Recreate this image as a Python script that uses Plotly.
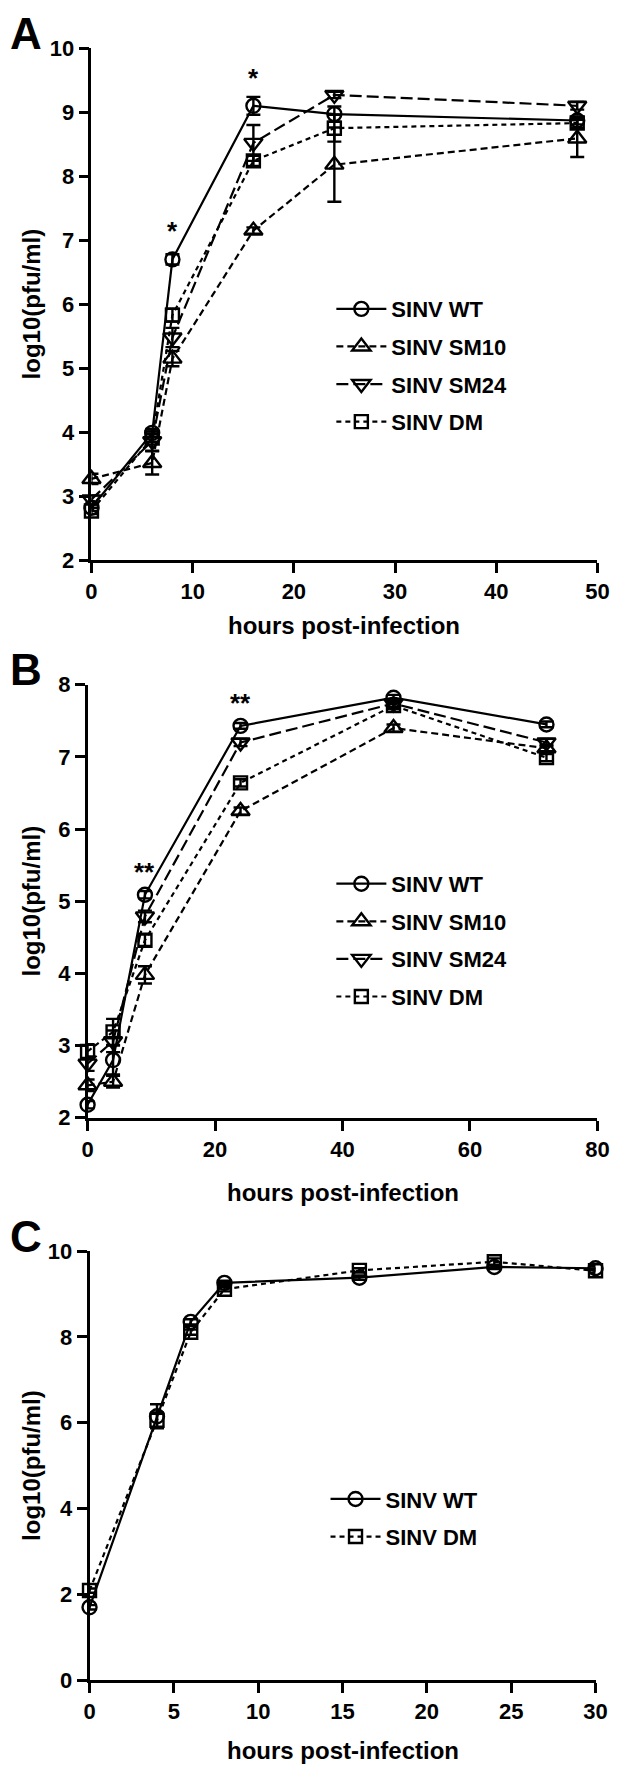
import plotly.graph_objects as go

# ---------------- data ----------------
hours_A = [0, 6, 8, 16, 24, 48]
A_WT = [2.82, 3.99, 6.70, 9.10, 8.97, 8.87]
A_SM10 = [3.27, 3.52, 5.15, 7.15, 8.18, 8.59]
A_SM24 = [2.95, 3.86, 5.48, 8.52, 9.27, 9.10]
A_DM = [2.77, 3.91, 5.83, 8.24, 8.75, 8.83]
A_WT_err = [0.05, 0.06, 0.08, 0.14, 0.12, 0.06]
A_SM10_err = [0.08, 0.18, 0.12, 0.05, 0.58, 0.29]
A_SM24_err = [0.06, 0.15, 0.15, 0.28, 0.05, 0.06]
A_DM_err = [0.05, 0.06, 0.10, 0.08, 0.21, 0.08]

hours_B = [0, 4, 9, 24, 48, 72]
B_WT = [2.18, 2.80, 5.09, 7.43, 7.82, 7.45]
B_SM10 = [2.45, 2.50, 3.98, 6.25, 7.40, 7.12]
B_SM24 = [2.75, 3.06, 4.79, 7.20, 7.74, 7.20]
B_DM = [2.92, 3.19, 4.46, 6.64, 7.71, 6.99]
B_WT_err = [0.05, 0.20, 0.05, 0.04, 0.04, 0.04]
B_SM10_err = [0.08, 0.08, 0.12, 0.05, 0.05, 0.05]
B_SM24_err = [0.10, 0.15, 0.08, 0.05, 0.05, 0.05]
B_DM_err = [0.10, 0.18, 0.08, 0.05, 0.05, 0.05]

hours_C = [0, 4, 6, 8, 16, 24, 30]
C_WT = [1.70, 6.15, 8.35, 9.26, 9.38, 9.63, 9.60]
C_DM = [2.09, 6.06, 8.11, 9.11, 9.55, 9.75, 9.54]
C_WT_err = [0.05, 0.28, 0.06, 0.05, 0.05, 0.05, 0.05]
C_DM_err = [0.05, 0.18, 0.06, 0.05, 0.05, 0.08, 0.05]

series_names = ["SINV WT", "SINV SM10", "SINV SM24", "SINV DM"]

# significance marks: (hours, y, text)
sig_A = [(8, 6.70, "*"), (16, 9.10, "*")]
sig_B = [(9, 5.09, "**"), (24, 7.43, "**")]

# ---------------- style ----------------
W, H = 625, 1783
FONT = "Liberation Sans, Arial, Helvetica, sans-serif"
styles = {
    "SINV WT": dict(symbol="circle-open", dash="solid"),
    "SINV SM10": dict(symbol="triangle-up-open", dash="7px,4px"),
    "SINV SM24": dict(symbol="triangle-down-open", dash="12px,5px"),
    "SINV DM": dict(symbol="square-open", dash="5px,4px"),
}
msize = {"SINV WT": 14, "SINV SM10": 16, "SINV SM24": 16, "SINV DM": 13}


def px_x(p):
    return p / W


def px_y(p):
    return 1 - p / H


fig = go.Figure()


def add_series(x, y, err, name, xa, ya, legend):
    st = styles[name]
    fig.add_trace(go.Scatter(
        x=x, y=y, name=name, mode="lines+markers",
        xaxis=xa, yaxis=ya, legend=legend, legendgroup=legend + name,
        line=dict(color="black", width=2.2, dash=st["dash"]),
        marker=dict(symbol=st["symbol"], size=msize[name], color="black",
                    line=dict(color="black", width=2.4)),
        error_y=dict(type="data", array=err, visible=True, color="black",
                     thickness=2.4, width=7),
        cliponaxis=False,
    ))


for nm, yv, ev in zip(series_names, [A_WT, A_SM10, A_SM24, A_DM],
                      [A_WT_err, A_SM10_err, A_SM24_err, A_DM_err]):
    add_series(hours_A, yv, ev, nm, "x", "y", "legend")
for nm, yv, ev in zip(series_names, [B_WT, B_SM10, B_SM24, B_DM],
                      [B_WT_err, B_SM10_err, B_SM24_err, B_DM_err]):
    add_series(hours_B, yv, ev, nm, "x2", "y2", "legend2")
for nm, yv, ev in zip(["SINV WT", "SINV DM"], [C_WT, C_DM], [C_WT_err, C_DM_err]):
    add_series(hours_C, yv, ev, nm, "x3", "y3", "legend3")

tickfont = dict(family=FONT, size=22, color="black", weight="bold")


def axis_common():
    return dict(showline=True, linecolor="black", linewidth=2.6,
                ticks="outside", ticklen=10, tickwidth=2.6, tickcolor="black",
                showgrid=False, zeroline=False, tickfont=tickfont,
                fixedrange=True)


# panel geometry in pixels
geo = {
    "A": dict(xl=88, xr=609, yt=36.7, yb=556.0),
    "B": dict(xl=84, xr=609, yt=682.3, yb=1121.5),
    "C": dict(xl=86, xr=607, yt=1256.7, yb=1692.0),
}

layout = dict(
    width=W, height=H, margin=dict(l=0, r=0, t=0, b=0),
    plot_bgcolor="white", paper_bgcolor="white", showlegend=True,
    font=dict(family=FONT, color="black"),
)

axes_def = [
    ("A", "xaxis", "yaxis", "x", "y", [0, 50], 10, [2, 10], 1),
    ("B", "xaxis2", "yaxis2", "x2", "y2", [0, 80], 20, [2, 8], 1),
    ("C", "xaxis3", "yaxis3", "x3", "y3", [0, 30], 5, [0, 10], 2),
]
for key, xn, yn, xr, yr, xrange_, xd, yrange_, yd in axes_def:
    g = geo[key]
    xa = axis_common()
    xa.update(domain=[px_x(g["xl"]), px_x(g["xr"])], range=xrange_, dtick=xd,
              tick0=0, anchor=yr)
    ya = axis_common()
    ya.update(domain=[px_y(g["yb"]), px_y(g["yt"])], range=yrange_, dtick=yd,
              tick0=0, anchor=xr)
    layout[xn] = xa
    layout[yn] = ya

legfont = dict(family=FONT, size=22, color="black", weight="bold")
leg_common = dict(font=legfont, bgcolor="rgba(0,0,0,0)", borderwidth=0,
                  xanchor="left", yanchor="top", tracegroupgap=6,
                  itemwidth=50, traceorder="grouped")
layout["legend"] = dict(leg_common, x=px_x(335), y=px_y(280))
layout["legend2"] = dict(leg_common, x=px_x(335), y=px_y(863))
layout["legend3"] = dict(leg_common, x=px_x(329), y=px_y(1487))

fig.update_layout(**layout)

annots = []
# panel letters
for letter, ypx in [("A", 22), ("B", 667), ("C", 1242)]:
    annots.append(dict(text=letter, x=px_x(21), y=px_y(ypx), xref="paper",
                       yref="paper", showarrow=False, xanchor="center",
                       yanchor="middle",
                       font=dict(family=FONT, size=44, color="black", weight="bold")))
# axis titles
for key, ypx in [("A", 622), ("B", 1197), ("C", 1763)]:
    g = geo[key]
    annots.append(dict(text="hours post-infection", x=px_x((g["xl"] + g["xr"]) / 2),
                       y=px_y(ypx), xref="paper", yref="paper", showarrow=False,
                       xanchor="center", yanchor="middle",
                       font=dict(family=FONT, size=24, color="black", weight="bold")))
    annots.append(dict(text="log10(pfu/ml)", x=px_x(26), y=px_y((g["yt"] + g["yb"]) / 2),
                       xref="paper", yref="paper", showarrow=False, textangle=-90,
                       xanchor="center", yanchor="middle",
                       font=dict(family=FONT, size=24, color="black", weight="bold")))
# significance marks
for (hx, hy, t) in sig_A:
    annots.append(dict(text=t, x=hx, y=hy, xref="x", yref="y", showarrow=False,
                       yanchor="bottom", yshift=11,
                       font=dict(family=FONT, size=26, color="black", weight="bold")))
for (hx, hy, t) in sig_B:
    annots.append(dict(text=t, x=hx, y=hy, xref="x2", yref="y2", showarrow=False,
                       yanchor="bottom", yshift=6,
                       font=dict(family=FONT, size=26, color="black", weight="bold")))
fig.update_layout(annotations=annots)

fig.write_html("out.html", config={"displayModeBar": False},
               post_script="document.body.style.margin='0';document.body.style.padding='0';")
